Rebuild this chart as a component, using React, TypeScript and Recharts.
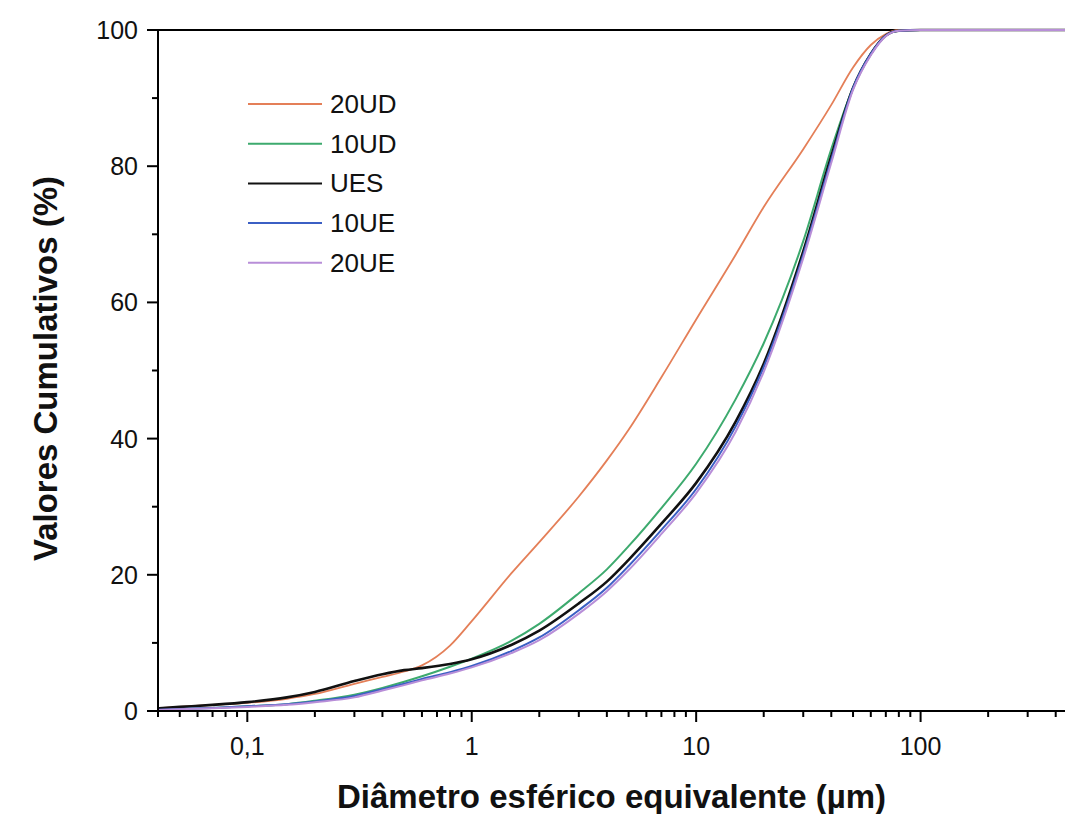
import { LineChart, Line, XAxis, YAxis, ReferenceLine, Label } from 'recharts'

// particle diameter (µm) sampled along the log axis
const sizes = [0.04, 0.05, 0.07, 0.1, 0.15, 0.2, 0.3, 0.4, 0.5, 0.6, 0.8, 1, 1.5, 2, 3, 4, 5, 7, 10, 15, 20, 30, 40, 50, 60, 70, 80, 100, 200, 440]

const ud20 = [0.4, 0.6, 0.9, 1.2, 1.8, 2.5, 4.0, 5.0, 5.8, 6.7, 9.6, 13.2, 20.2, 24.8, 31.5, 36.8, 41.3, 49, 57.5, 67, 74, 82.5, 89, 94.5, 97.8, 99.4, 100, 100, 100, 100]
const ud10 = [0.2, 0.3, 0.45, 0.7, 1.0, 1.5, 2.4, 3.4, 4.3, 5.1, 6.5, 7.7, 10.3, 12.8, 17.3, 20.8, 24.2, 29.8, 36.3, 45.8, 54, 69, 82.5, 91.5, 96.5, 99.2, 99.9, 100, 100, 100]
const ues = [0.4, 0.6, 0.9, 1.3, 2.0, 2.8, 4.4, 5.4, 6.0, 6.3, 6.9, 7.6, 9.7, 11.8, 15.8, 19.0, 22.2, 27.5, 33.5, 42.5, 51, 67.5, 81.5, 91.5, 96.5, 99.2, 99.9, 100, 100, 100]
const ue10 = [0.2, 0.3, 0.45, 0.7, 1.0, 1.4, 2.2, 3.2, 4.0, 4.7, 5.7, 6.6, 8.8, 10.8, 14.8, 18.1, 21.3, 26.6, 32.6, 41.8, 50.5, 67, 81, 91.5, 96.5, 99.2, 99.9, 100, 100, 100]
const ue20 = [0.15, 0.25, 0.4, 0.6, 0.9, 1.3, 2.0, 3.0, 3.8, 4.5, 5.5, 6.4, 8.5, 10.4, 14.3, 17.6, 20.7, 26, 32, 41, 49.8, 66.5, 80.5, 91.2, 96.3, 99.1, 99.9, 100, 100, 100]

const seriesNames = ['20UD', '10UD', 'UES', '10UE', '20UE']
const seriesColors = ['#e47f58', '#3daa6e', '#111111', '#3b5fc4', '#b88ed8']
const seriesWidths = [1.8, 2, 2.6, 2, 2]

// axis ticks
const decades = [0.1, 1, 10, 100]
const decadeLabels = ['0,1', '1', '10', '100']
const xTicks = [0.04, 0.05, 0.06, 0.07, 0.08, 0.09, 0.1, 0.2, 0.3, 0.4, 0.5, 0.6, 0.7, 0.8, 0.9, 1, 2, 3, 4, 5, 6, 7, 8, 9, 10, 20, 30, 40, 50, 60, 70, 80, 90, 100, 200, 300, 400]
const yTicks = [0, 10, 20, 30, 40, 50, 60, 70, 80, 90, 100]

const font = '"Liberation Sans", Arial, sans-serif'

const seriesValues = [ud20, ud10, ues, ue10, ue20]
const data = sizes.map((d, i) => {
    const row: Record<string, number> = { d }
    seriesNames.forEach((n, s) => { row[n] = seriesValues[s][i] })
    return row
})

function XTick({ x, y, payload }: any) {
    const idx = decades.findIndex(v => Math.abs(v - payload.value) < 1e-9)
    const major = idx >= 0
    return (
        <g>
            <line x1={x} x2={x} y1={y} y2={y + (major ? 11 : 6)} stroke="#000" strokeWidth={2} />
            {major && (
                <text x={x} y={y + 44} textAnchor="middle" fontSize={25} fontFamily={font} fill="#111">
                    {decadeLabels[idx]}
                </text>
            )}
        </g>
    )
}

function YTick({ x, y, payload }: any) {
    const major = payload.value % 20 === 0
    return (
        <g>
            <line x1={x - (major ? 11 : 6)} x2={x} y1={y} y2={y} stroke="#000" strokeWidth={2} />
            {major && (
                <text x={x - 20} y={y + 9} textAnchor="end" fontSize={25} fontFamily={font} fill="#111">
                    {payload.value}
                </text>
            )}
        </g>
    )
}

function Legend() {
    return (
        <svg width={200} height={200} style={{ position: 'absolute', left: 240, top: 84 }}>
            {seriesNames.map((n, i) => (
                <g key={n}>
                    <line x1={8} x2={82} y1={20 + i * 39.7} y2={20 + i * 39.7} stroke={seriesColors[i]} strokeWidth={2} />
                    <text x={90} y={20 + i * 39.7 + 9} fontSize={26} fontFamily={font} fill="#111">{n}</text>
                </g>
            ))}
        </svg>
    )
}

export default function App() {
    return (
        <div style={{ position: 'absolute', left: 0, top: 0, width: 1065, height: 814, background: '#fff', overflow: 'hidden' }}>
            <LineChart width={1065} height={814} data={data} margin={{ top: 30, right: 0, bottom: 0, left: 0 }}>
                <XAxis
                    dataKey="d"
                    type="number"
                    scale="log"
                    domain={[0.04, 440]}
                    allowDataOverflow
                    ticks={xTicks}
                    interval={0}
                    height={103}
                    tickSize={0}
                    tickMargin={0}
                    tick={<XTick />}
                    axisLine={{ stroke: '#000', strokeWidth: 2 }}
                >
                    <Label
                        content={({ viewBox }: any) => (
                            <text x={viewBox.x + viewBox.width / 2} y={808} textAnchor="middle" fontSize={33} fontWeight="bold" fontFamily={font} fill="#111">
                                Diâmetro esférico equivalente (µm)
                            </text>
                        )}
                    />
                </XAxis>
                <YAxis
                    type="number"
                    domain={[0, 100]}
                    ticks={yTicks}
                    interval={0}
                    width={158}
                    tickSize={0}
                    tickMargin={0}
                    tick={<YTick />}
                    axisLine={{ stroke: '#000', strokeWidth: 2 }}
                >
                    <Label
                        content={({ viewBox }: any) => {
                            const cy = viewBox.y + viewBox.height / 2 - 2
                            return (
                                <text x={45} y={cy} transform={`rotate(-90 45 ${cy})`} textAnchor="middle" dominantBaseline="central" fontSize={33} fontWeight="bold" fontFamily={font} fill="#111">
                                    Valores Cumulativos (%)
                                </text>
                            )
                        }}
                    />
                </YAxis>
                <ReferenceLine y={100} stroke="#000" strokeWidth={2} />
                {seriesNames.map((n, i) => (
                    <Line
                        key={n}
                        dataKey={n}
                        type="monotone"
                        stroke={seriesColors[i]}
                        strokeWidth={seriesWidths[i]}
                        dot={false}
                        isAnimationActive={false}
                    />
                ))}
            </LineChart>
            <Legend />
        </div>
    )
}
